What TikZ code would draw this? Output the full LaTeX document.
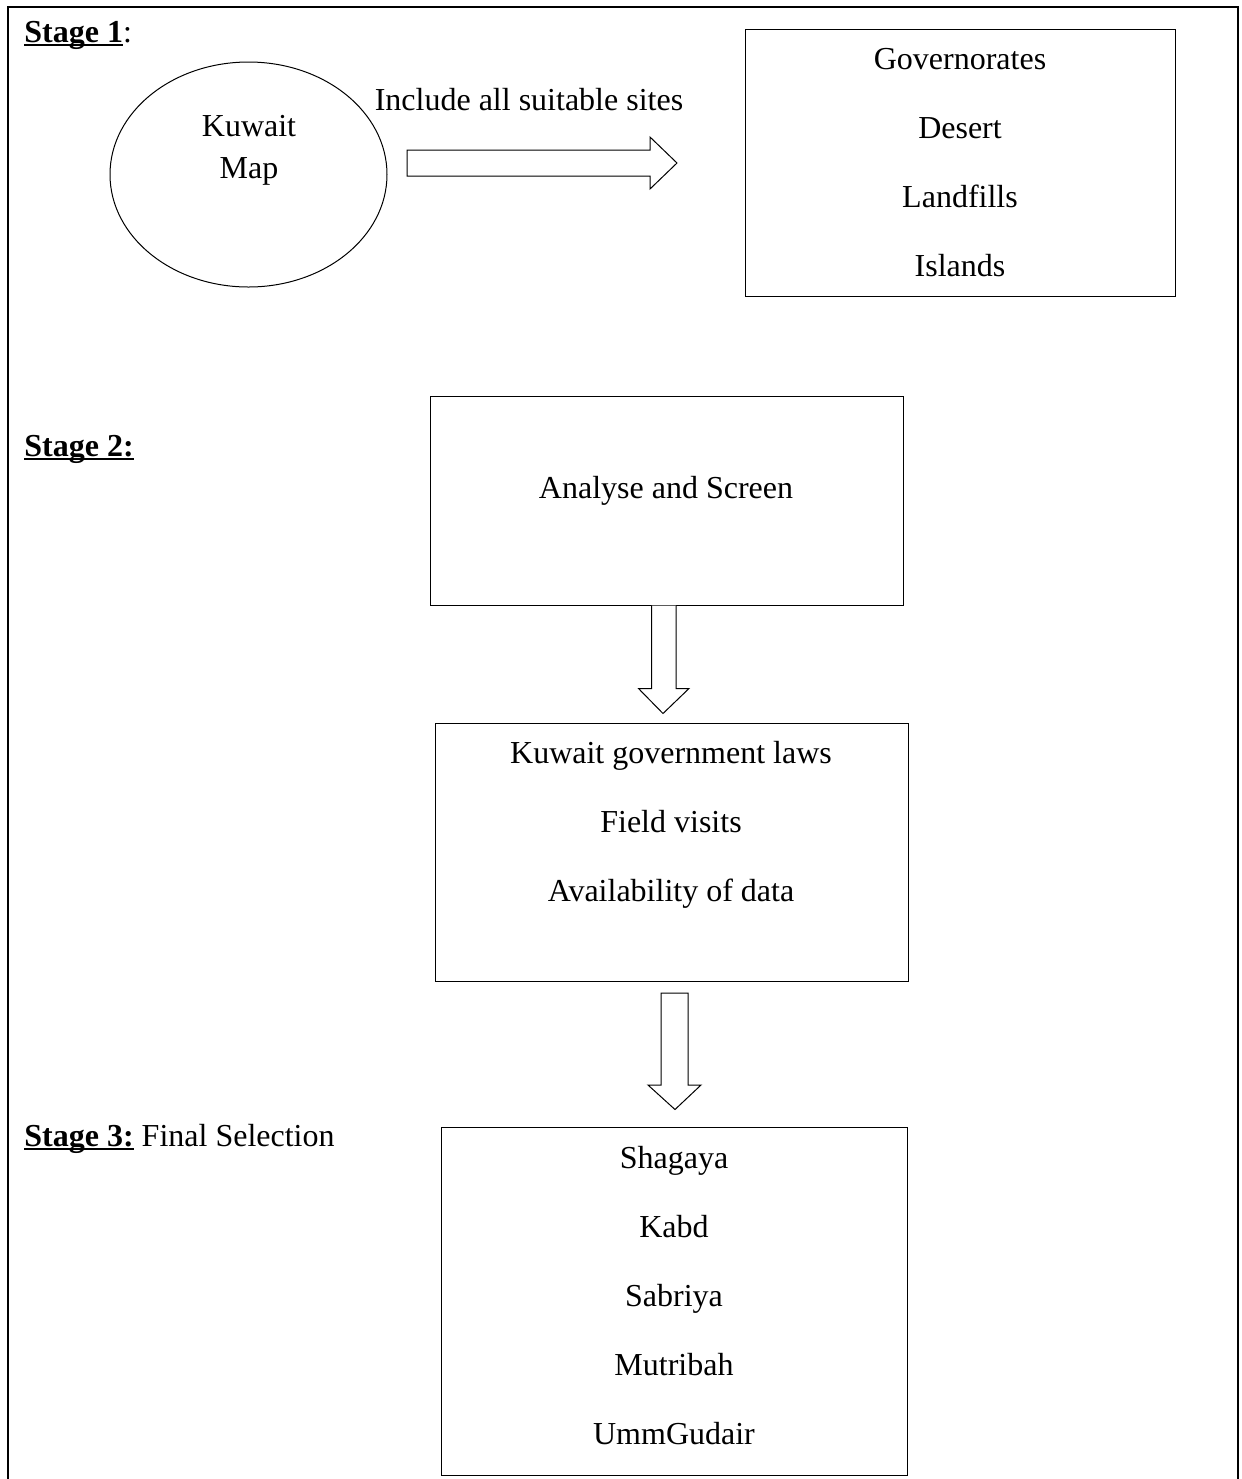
\documentclass[tikz,border=0pt]{standalone}
\usepackage{fontspec}
\setmainfont{Liberation Serif}
\usetikzlibrary{shapes.geometric,calc}
\newcommand\myul[1]{\setbox0\hbox{#1}\rlap{\rule[-2.2pt]{\wd0}{1pt}}\box0\relax}
\begin{document}
\begin{tikzpicture}[x=0.5pt,y=-0.5pt,
  txt/.style={inner sep=0pt,font=\fontsize{16}{19}\selectfont},
  lst/.style={inner sep=0pt,align=center,font=\fontsize{16}{34.5}\selectfont},
  boxn/.style={draw,line width=0.5pt,inner sep=0pt},
  blk/.style={draw,line width=0.5pt,fill=white,line join=miter}]
\useasboundingbox (0,0) rectangle (1242,1479);
\draw[line width=1.2pt] (8,1479) -- (8,7) -- (1238,7) -- (1238,1479);

% Stage labels
\node[txt,anchor=base west] (s1) at (24,42) {\myul{\textbf{Stage 1}}:};
\node[txt,anchor=base west] (s2) at (24,456) {\myul{\textbf{Stage 2:}}};
\node[txt,anchor=base west] (s3) at (24,1146) {\myul{\textbf{Stage 3:}} Final Selection};

% Stage 1
\node[ellipse,boxn,minimum width=138.5pt,minimum height=112.5pt] (map) at (248.5,174.5) {};
\node[txt,align=center,font=\fontsize{16}{21}\selectfont] (maptxt) at (249,150) {Kuwait\\Map};
\node[txt] (incl) at (529,100) {Include all suitable sites};
\node[boxn,minimum width=215pt,minimum height=133.5pt] (sites) at (960,162.5) {};
\node[lst] (sitestxt) at (960,162.5) {Governorates\\Desert\\Landfills\\Islands};
\coordinate (ra) at (407,163);
\draw[blk] (ra) ++(0,-13) -- ++(243,0) -- ++(0,-13) -- (677,163) -- (650,189) -- (650,176) -- ++(-243,0) -- cycle;

% Stage 2
\node[boxn,minimum width=236.5pt,minimum height=104.5pt] (screen) at (666.5,500.5) {};
\node[txt] (screentxt) at (666,491) {Analyse and Screen};
\node[boxn,minimum width=236.5pt,minimum height=129pt] (crit) at (671.5,852) {};
\node[lst] (crittxt) at (671,825) {Kuwait government laws\\Field visits\\Availability of data};
\draw[blk] ($(screen.south)+(-15,0)$) -- ++(0,83) -- ++(-13,0) -- ($(crit.north)+(-8.5,-9)$) -- ($(screen.south)+(22.5,83)$) -- ++(-13,0) -- ($(screen.south)+(9.5,0)$);

% Stage 3
\node[boxn,minimum width=233pt,minimum height=174pt] (final) at (674,1301) {};
\node[lst] (finaltxt) at (674,1296) {Shagaya\\Kabd\\Sabriya\\Mutribah\\UmmGudair};
\draw[blk] (661,993) -- (688,993) -- (688,1085) -- (701,1085) -- ($(final.north)+(1,-17)$) -- (648,1085) -- (661,1085) -- cycle;
\end{tikzpicture}
\end{document}
